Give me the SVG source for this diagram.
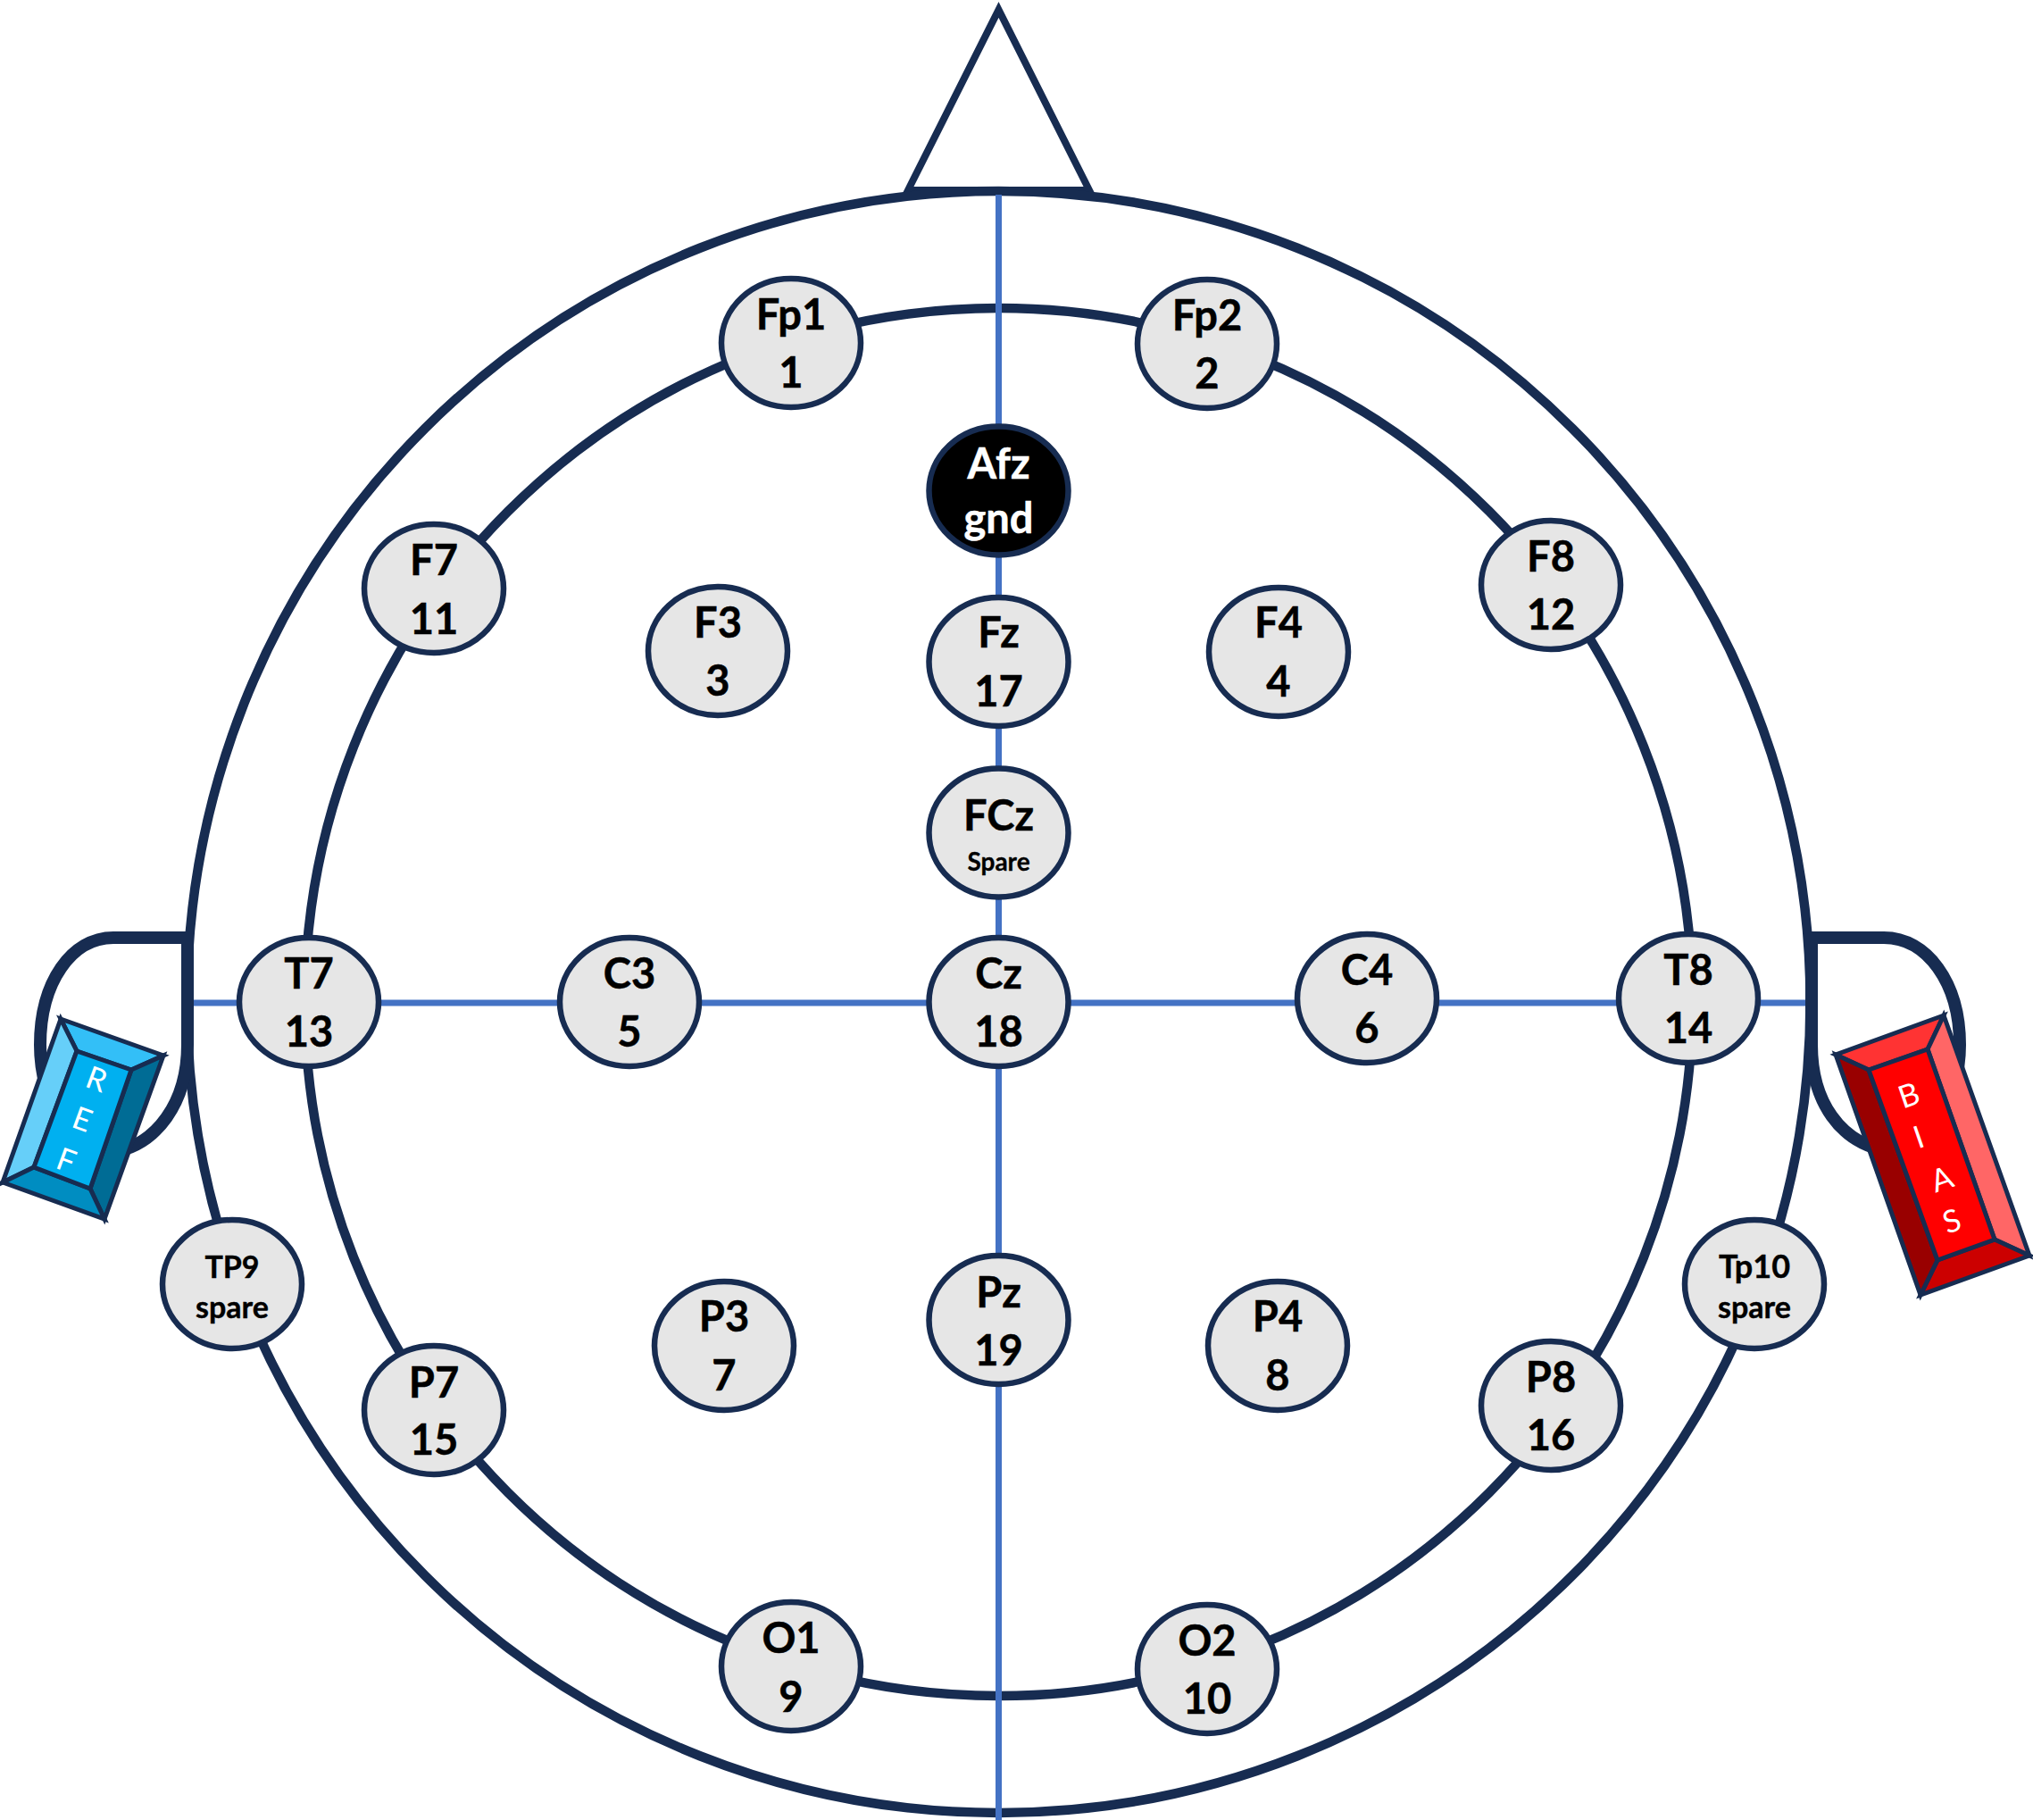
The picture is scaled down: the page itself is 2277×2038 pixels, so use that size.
<svg xmlns="http://www.w3.org/2000/svg" width="2277" height="2038" viewBox="0 0 2277 2038">
<style>
.head{fill:none;stroke:#172C51;stroke-width:10.500}
.nose{fill:none;stroke:#172C51;stroke-width:8;stroke-linejoin:miter}
.ear{fill:none;stroke:#172C51;stroke-width:14}
.axis{fill:none;stroke:#4472C4;stroke-width:7}
.n{fill:#E6E6E6;stroke:#172C51;stroke-width:6.500}
text{font-family:Lato,"Liberation Sans",sans-serif;text-anchor:middle}
.t{font-weight:700;font-size:47px;fill:#000;stroke:#000;stroke-width:.5}
.s{font-weight:700;font-size:28px;fill:#000;stroke:#000;stroke-width:.3}
.m{font-weight:700;font-size:34px;fill:#000;stroke:#000;stroke-width:.4}
.w{fill:#fff;stroke:#fff}
.l{font-size:35px;fill:#fff;font-weight:400}
.b{stroke:#172C51;stroke-width:5;stroke-linejoin:miter}
</style>
<g id="head">
<path id="nose" class="nose" d="M1017 213L1118.500 11L1220 213Z"/>
<ellipse id="outer" class="head" cx="1118.500" cy="1122" rx="909" ry="908"/>
<ellipse id="inner" class="head" cx="1118.500" cy="1122" rx="777" ry="777"/>
<path id="ear-left" class="ear" d="M210 1050V1170C210 1235 175 1282 127 1290C80 1290 45 1235 45 1170C45 1100 80 1050 127 1050H210Z"/>
<path id="ear-right" class="ear" d="M2029 1050V1170C2029 1235 2062 1278 2110 1288C2158 1290 2195 1235 2195 1170C2195 1100 2158 1050 2110 1050H2029Z"/>
</g>
<g id="connectors">
<line class="axis" x1="1118.500" y1="218" x2="1118.500" y2="2038"/>
<line class="axis" x1="217" y1="1123" x2="2022" y2="1123"/>
</g>
<g id="node-REF">
<path class="b" fill="#33BFF7" d="M68 1141L183 1182L147 1198L86 1177Z"/>
<path class="b" fill="#66CFF9" d="M68 1141L86 1177L38 1307L3 1324Z"/>
<path class="b" fill="#006C95" d="M183 1182L117 1365L101 1331L147 1198Z"/>
<path class="b" fill="#008DC1" d="M3 1324L117 1365L101 1331L38 1307Z"/>
<path class="b" fill="#00B0F0" d="M86 1177L147 1198L101 1331L38 1307Z"/>
<text class="l" transform="translate(104 1220) rotate(20)">R</text>
<text class="l" transform="translate(88 1265) rotate(20)">E</text>
<text class="l" transform="translate(70 1311) rotate(20)">F</text>
</g>
<g id="node-BIAS">
<path class="b" fill="#FF3333" d="M2177 1137L2056 1181L2093 1198L2159 1175Z"/>
<path class="b" fill="#FF6666" d="M2177 1137L2273 1406L2234 1388L2159 1175Z"/>
<path class="b" fill="#CC0000" d="M2273 1406L2151 1450L2170 1411L2234 1388Z"/>
<path class="b" fill="#990000" d="M2056 1181L2151 1450L2170 1411L2093 1198Z"/>
<path class="b" fill="#FF0000" d="M2093 1198L2159 1175L2234 1388L2170 1411Z"/>
<text class="l" transform="translate(2142 1238) rotate(-19)">B</text>
<text class="l" transform="translate(2153 1285) rotate(-19)">I</text>
<text class="l" transform="translate(2179 1332) rotate(-19)">A</text>
<text class="l" transform="translate(2190 1379) rotate(-19)">S</text>
</g>
<g id="node-Fp1"><ellipse class="n" cx="886" cy="384" rx="78" ry="72"/><text class="t" x="886" y="369">Fp1</text><text class="t" x="886" y="434">1</text></g>
<g id="node-Fp2"><ellipse class="n" cx="1352" cy="385" rx="78" ry="72"/><text class="t" x="1352" y="370">Fp2</text><text class="t" x="1352" y="435">2</text></g>
<g id="node-Afz"><ellipse cx="1118.500" cy="549.500" rx="78" ry="72" fill="#000" stroke="#172C51" stroke-width="6.500"/><text class="t w" x="1118.500" y="536">Afz</text><text class="t w" x="1118.500" y="597">gnd</text></g>
<g id="node-F7"><ellipse class="n" cx="486" cy="659" rx="78" ry="72"/><text class="t" x="486" y="644">F7</text><text class="t" x="486" y="710">11</text></g>
<g id="node-F8"><ellipse class="n" cx="1737" cy="655" rx="78" ry="72"/><text class="t" x="1737" y="640">F8</text><text class="t" x="1737" y="705">12</text></g>
<g id="node-F3"><ellipse class="n" cx="804" cy="729" rx="78" ry="72"/><text class="t" x="804" y="714">F3</text><text class="t" x="804" y="779">3</text></g>
<g id="node-Fz"><ellipse class="n" cx="1118.500" cy="741" rx="78" ry="72"/><text class="t" x="1118.500" y="725">Fz</text><text class="t" x="1118.500" y="791">17</text></g>
<g id="node-F4"><ellipse class="n" cx="1432" cy="730" rx="78" ry="72"/><text class="t" x="1432" y="714">F4</text><text class="t" x="1432" y="780">4</text></g>
<g id="node-FCz"><ellipse class="n" cx="1118.500" cy="932.500" rx="78" ry="72"/><text class="t" x="1118.500" y="930">FCz</text><text class="s" x="1118.500" y="975">Spare</text></g>
<g id="node-T7"><ellipse class="n" cx="346" cy="1122" rx="78" ry="72"/><text class="t" x="346" y="1107">T7</text><text class="t" x="346" y="1172">13</text></g>
<g id="node-C3"><ellipse class="n" cx="705" cy="1122" rx="78" ry="72"/><text class="t" x="705" y="1107">C3</text><text class="t" x="705" y="1172">5</text></g>
<g id="node-Cz"><ellipse class="n" cx="1118.500" cy="1122" rx="78" ry="72"/><text class="t" x="1118.500" y="1107">Cz</text><text class="t" x="1118.500" y="1172">18</text></g>
<g id="node-C4"><ellipse class="n" cx="1531" cy="1118" rx="78" ry="72"/><text class="t" x="1531" y="1103">C4</text><text class="t" x="1531" y="1168">6</text></g>
<g id="node-T8"><ellipse class="n" cx="1891" cy="1118" rx="78" ry="72"/><text class="t" x="1891" y="1103">T8</text><text class="t" x="1891" y="1168">14</text></g>
<g id="node-TP9"><ellipse class="n" cx="260" cy="1438" rx="78" ry="72"/><text class="m" x="260" y="1431">TP9</text><text class="m" x="260" y="1476">spare</text></g>
<g id="node-Tp10"><ellipse class="n" cx="1965" cy="1438" rx="78" ry="72"/><text class="m" x="1965" y="1431" style="font-size:36px">Tp10</text><text class="m" x="1965" y="1476">spare</text></g>
<g id="node-Pz"><ellipse class="n" cx="1118.500" cy="1478" rx="78" ry="72"/><text class="t" x="1118.500" y="1464">Pz</text><text class="t" x="1118.500" y="1529">19</text></g>
<g id="node-P3"><ellipse class="n" cx="811" cy="1507" rx="78" ry="72"/><text class="t" x="811" y="1491">P3</text><text class="t" x="811" y="1557">7</text></g>
<g id="node-P4"><ellipse class="n" cx="1431" cy="1507" rx="78" ry="72"/><text class="t" x="1431" y="1491">P4</text><text class="t" x="1431" y="1557">8</text></g>
<g id="node-P7"><ellipse class="n" cx="486" cy="1579" rx="78" ry="72"/><text class="t" x="486" y="1565">P7</text><text class="t" x="486" y="1629">15</text></g>
<g id="node-P8"><ellipse class="n" cx="1737" cy="1574" rx="78" ry="72"/><text class="t" x="1737" y="1559">P8</text><text class="t" x="1737" y="1624">16</text></g>
<g id="node-O1"><ellipse class="n" cx="886" cy="1866" rx="78" ry="72"/><text class="t" x="886" y="1851">O1</text><text class="t" x="886" y="1917">9</text></g>
<g id="node-O2"><ellipse class="n" cx="1352" cy="1869" rx="78" ry="72"/><text class="t" x="1352" y="1854">O2</text><text class="t" x="1352" y="1919">10</text></g>
</svg>
